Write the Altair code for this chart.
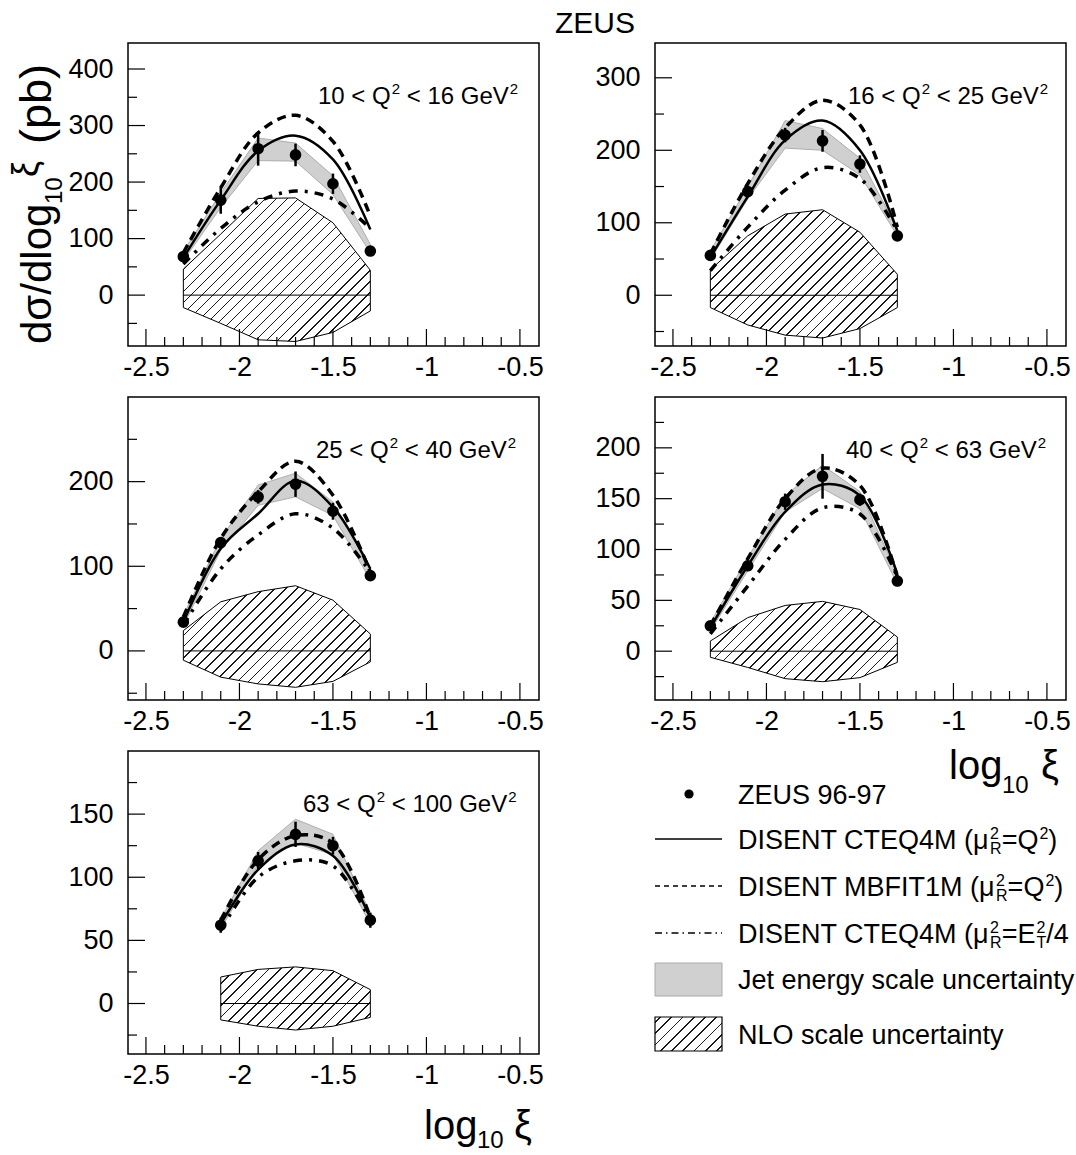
import math
import altair as alt
import pandas as pd

FONT = "Liberation Sans"
W, H = 411, 303
XDOM = [-2.596, -0.398]

# ---------------- data ----------------
x_bins = [-2.3, -2.1, -1.9, -1.7, -1.5, -1.3]
x_bins5 = [-2.1, -1.9, -1.7, -1.5, -1.3]

p1_data = [68, 168, 259, 248, 197, 78]
p1_err = [5, 24, 30, 20, 18, 6]
p1_jes_hi = [77, 181, 278, 269, 211, 90]
p1_jes_lo = [61, 155, 238, 237, 178, 75]
p1_cteq = [66, 168, 255, 282, 240, 116]
p1_mbfit = [75, 190, 287, 318, 272, 140]
p1_et = [55, 118, 165, 184, 170, 118]
p1_nlo_hi = [46, 108, 171, 172, 128, 44]
p1_nlo_lo = [-22, -50, -79, -82, -66, -28]

p2_data = [55, 143, 221, 213, 181, 82]
p2_err = [4, 8, 10, 15, 12, 5]
p2_jes_hi = [61, 150, 241, 230, 189, 92]
p2_jes_lo = [49, 133, 203, 200, 166, 82]
p2_cteq = [52, 136, 214, 241, 200, 89]
p2_mbfit = [57, 154, 231, 269, 235, 94]
p2_et = [34, 94, 145, 176, 161, 89]
p2_nlo_hi = [35, 82, 112, 118, 87, 29]
p2_nlo_lo = [-17, -41, -55, -59, -46, -17]

p3_data = [34, 128, 182, 197, 165, 89]
p3_err = [4, 6, 8, 15, 10, 5]
p3_jes_hi = [42, 133, 196, 210, 176, 98]
p3_jes_lo = [30, 119, 172, 182, 160, 84]
p3_cteq = [34, 121, 162, 201, 170, 97]
p3_mbfit = [40, 133, 188, 224, 184, 93]
p3_et = [30, 97, 137, 162, 145, 93]
p3_nlo_hi = [24, 58, 70, 77, 60, 20]
p3_nlo_lo = [-11, -31, -39, -43, -36, -13]

p4_data = [25, 84, 147, 172, 149, 69]
p4_err = [4, 5, 8, 22, 6, 5]
p4_jes_hi = [28, 92, 153, 183, 157, 76]
p4_jes_lo = [20, 79, 137, 160, 140, 66]
p4_cteq = [23, 84, 137, 164, 153, 76]
p4_mbfit = [25, 91, 150, 180, 163, 73]
p4_et = [17, 64, 110, 141, 135, 73]
p4_nlo_hi = [10, 33, 45, 49, 41, 14]
p4_nlo_lo = [-6, -16, -27, -30, -26, -11]

p5_data = [62, 113, 134, 125, 66]
p5_err = [6, 7, 10, 7, 6]
p5_jes_hi = [67, 121, 146, 134, 72]
p5_jes_lo = [59, 110, 127, 118, 63]
p5_cteq = [63, 106, 126, 117, 68]
p5_mbfit = [66, 114, 133, 127, 68]
p5_et = [58, 100, 113, 109, 66]
p5_nlo_hi = [21, 27, 29, 26, 11]
p5_nlo_lo = [-13, -18, -21, -18, -11]

q2_low = ["10", "16", "25", "40", "63"]
q2_high = ["16", "25", "40", "63", "100"]
y_domains = [[-90, 446], [-70, 348], [-58, 300], [-48, 250], [-40, 200]]
y_major = [[0, 100, 200, 300, 400], [0, 100, 200, 300], [0, 100, 200],
           [0, 50, 100, 150, 200], [0, 50, 100, 150]]
y_minor = [[-50, 50, 150, 250, 350], [-50, 50, 150, 250], [-50, 50, 150, 250],
           [-25, 25, 75, 125, 175, 225], [-25, 25, 75, 125, 175]]
x_major = [-2.5, -2.0, -1.5, -1.0, -0.5]
x_minor = [-2.4, -2.3, -2.2, -2.1, -1.9, -1.8, -1.7, -1.6, -1.4, -1.3, -1.2,
           -1.1, -0.9, -0.8, -0.7, -0.6]

legend_labels = ["ZEUS 96-97", "DISENT CTEQ4M (\u03bc", "DISENT MBFIT1M (\u03bc",
                 "Jet energy scale uncertainty", "NLO scale uncertainty"]

# ---------------- helpers ----------------
AW = {' ': 278, '(': 333, ')': 333, '-': 333, '.': 278, '/': 278, '=': 584, '<': 584,
      'A': 667, 'B': 667, 'C': 722, 'D': 722, 'E': 667, 'F': 611, 'G': 778, 'I': 278,
      'J': 500, 'L': 556, 'M': 833, 'N': 722, 'O': 778, 'Q': 778, 'R': 722, 'S': 667,
      'T': 611, 'U': 722, 'V': 667, 'Z': 611, 'a': 556, 'c': 500, 'e': 556, 'g': 556,
      'i': 222, 'l': 222, 'n': 556, 'o': 556, 'r': 333, 's': 500, 't': 278, 'u': 556,
      'y': 500, '\u03bc': 576, '\u03c3': 600}


def tw(s, size):
    return sum(AW.get(c, 556) for c in s) * size / 1000.0


def hatch(wpx, hpx, spacing=7.8, lw=1.2, ink="#1a1a1a", bg="#ffffff"):
    L = (wpx + hpx) / math.sqrt(2)
    a = (wpx + hpx) / (wpx ** 2 + hpx ** 2)
    n = max(1, int(round(L / spacing)))
    half = lw / L / 2
    stops = [alt.GradientStop(offset=0, color=bg)]
    for k in range(n):
        t = (k + 0.5) / n
        lo, hi = round(max(0, t - half), 5), round(min(1, t + half), 5)
        stops += [alt.GradientStop(offset=lo, color=bg), alt.GradientStop(offset=lo, color=ink),
                  alt.GradientStop(offset=hi, color=ink), alt.GradientStop(offset=hi, color=bg)]
    stops.append(alt.GradientStop(offset=1, color=bg))
    return alt.LinearGradient(gradient="linear", stops=stops, x1=0, y1=0,
                              x2=round(a * wpx, 5), y2=round(a * hpx, 5))


one = pd.DataFrame({"a": [0]})


def txt(s, x, y, size, angle=None, align="left", limit=None):
    kw = dict(text=s, font=FONT, fontSize=size, align=align, baseline="alphabetic", color="black")
    if angle is not None:
        kw["angle"] = angle
    if limit is not None:
        kw["limit"] = limit
        kw["ellipsis"] = "\u200b"
    return alt.Chart(one).mark_text(**kw).encode(x=alt.value(x), y=alt.value(y))


def rich(x0, by, size, ssize, segs, rise, drop, right=None):
    """Horizontal text built of pieces: ('m', text), ('sup', text), ('ss', (sup, sub))."""
    out = []
    xx = x0
    for kind, s in segs:
        if kind == "m":
            stripped = s.lstrip(" ")
            xx += tw(s[:len(s) - len(stripped)], size)
            w = tw(stripped, size)
            if right is not None and xx + w > right:
                out.append(txt(stripped, xx, by, size, limit=right - xx))
            else:
                out.append(txt(stripped, xx, by, size))
            xx += w
        elif kind == "sup":
            out.append(txt(s, xx + 1, by - rise, ssize))
            xx += tw(s, ssize) + 1
        elif kind == "ss":
            sup, sub = s
            out.append(txt(sup, xx + 1, by - rise, ssize))
            out.append(txt(sub, xx + 1, by + drop, ssize))
            xx += max(tw(sup, ssize), tw(sub, ssize)) + 1
    return out


def panel(x, data, err, jhi, jlo, cteq, mbfit, et, nhi, nlo, qlo, qhi, label_dx,
          ydom, ymaj, ymin, extra=()):
    xs = alt.Scale(domain=XDOM, nice=False, zero=False)
    ys = alt.Scale(domain=ydom, nice=False, zero=False)
    common = dict(ticks=False, tickSize=0, domain=False, grid=False, labelFont=FONT,
                  labelFontSize=27, labelColor="black", labelFlush=False,
                  labelOverlap=False, labelExpr="'' + datum.value")
    xax = alt.Axis(values=x_major, labelPadding=8, **common)
    yax = alt.Axis(values=ymaj, labelPadding=15, **common)

    def X(f):
        return alt.X(f, type="quantitative", scale=xs, axis=xax, title=None)

    def Y(f):
        return alt.Y(f, type="quantitative", scale=ys, axis=yax, title=None)

    df = pd.DataFrame({
        "x": x, "data": data,
        "lo": [d - e for d, e in zip(data, err)],
        "hi": [d + e for d, e in zip(data, err)],
        "jhi": jhi, "jlo": jlo, "cteq": cteq, "mbfit": mbfit, "et": et,
        "nhi": nhi, "nlo": nlo,
    })
    wpx = (max(x) - min(x)) * W / (XDOM[1] - XDOM[0])
    hpx = (max(nhi) - min(nlo)) * H / (ydom[1] - ydom[0])
    base = alt.Chart(df)
    nlo_area = base.mark_area(fill=hatch(wpx, hpx), stroke="black", strokeWidth=1).encode(
        x=X("x"), y=Y("nhi"), y2="nlo")
    zero = alt.Chart(pd.DataFrame({"x0": [min(x)], "x1": [max(x)], "z": [0]})).mark_rule(
        color="black", strokeWidth=1).encode(x=X("x0"), x2="x1", y=Y("z"))
    jes = base.mark_area(fill="#d0d0d0", stroke="#a0a0a0", strokeWidth=0.8).encode(
        x=X("x"), y=Y("jhi"), y2="jlo")
    l_et = base.mark_line(color="black", strokeWidth=3.5, strokeDash=[9, 7, 3, 7],
                          interpolate="catmull-rom").encode(x=X("x"), y=Y("et"))
    l_mb = base.mark_line(color="black", strokeWidth=3.5, strokeDash=[9, 6],
                          interpolate="catmull-rom").encode(x=X("x"), y=Y("mbfit"))
    l_ct = base.mark_line(color="black", strokeWidth=2.5,
                          interpolate="catmull-rom").encode(x=X("x"), y=Y("cteq"))
    ebar = base.mark_rule(color="black", strokeWidth=2.5).encode(x=X("x"), y=Y("lo"), y2="hi")
    pts = base.mark_circle(color="black", opacity=1, size=135).encode(x=X("x"), y=Y("data"))

    ymaj_df = pd.DataFrame({"v": ymaj})
    ymin_df = pd.DataFrame({"v": ymin})
    xmaj_df = pd.DataFrame({"v": x_major})
    xmin_df = pd.DataFrame({"v": x_minor})
    yt1 = alt.Chart(ymaj_df).mark_rule(color="black", strokeWidth=1.2).encode(
        y=Y("v"), x=alt.value(0), x2=alt.value(17))
    yt2 = alt.Chart(ymin_df).mark_rule(color="black", strokeWidth=1.2).encode(
        y=Y("v"), x=alt.value(0), x2=alt.value(9))
    xt1 = alt.Chart(xmaj_df).mark_rule(color="black", strokeWidth=1.2).encode(
        x=X("v"), y=alt.value(H), y2=alt.value(H - 17))
    xt2 = alt.Chart(xmin_df).mark_rule(color="black", strokeWidth=1.2).encode(
        x=X("v"), y=alt.value(H), y2=alt.value(H - 9))
    lab = rich(label_dx, 61, 24, 15,
               [("m", qlo + " < Q"), ("sup", "2"), ("m", " < " + qhi + " GeV"), ("sup", "2")],
               rise=10, drop=5)
    return alt.layer(nlo_area, zero, jes, l_et, l_mb, l_ct, ebar, pts,
                     yt1, yt2, xt1, xt2, *lab, *extra).properties(width=W, height=H)


# ---------- extra text for panels ----------
anchor = alt.Chart(one).mark_rule(color="white", strokeWidth=1).encode(
    x=alt.value(-126.5), y=alt.value(-41.5), y2=alt.value(-36))
ytitle = [
    txt("d\u03c3/dlog", -77, 301, 42, angle=270),
    txt("10", -66, 161, 24, angle=270),
    txt("\u03be", -90, 134, 36, angle=270),
    txt("(pb)", -77, 101, 45, angle=270),
]
zeus = txt("ZEUS", 467, -10, 30, align="center")

xt_right = [txt("log", 294, 382, 40), txt("10", 347, 396, 24), txt("\u03be", 386, 382, 40)]
xt_bottom = [txt("log", 296, 388, 40), txt("10", 349, 397, 24), txt("\u03be", 386, 388, 40)]

p1 = panel(x_bins, p1_data, p1_err, p1_jes_hi, p1_jes_lo, p1_cteq, p1_mbfit, p1_et,
           p1_nlo_hi, p1_nlo_lo, q2_low[0], q2_high[0], 190, y_domains[0], y_major[0], y_minor[0],
           extra=[anchor, zeus] + ytitle)
p2 = panel(x_bins, p2_data, p2_err, p2_jes_hi, p2_jes_lo, p2_cteq, p2_mbfit, p2_et,
           p2_nlo_hi, p2_nlo_lo, q2_low[1], q2_high[1], 193, y_domains[1], y_major[1], y_minor[1])
p3 = panel(x_bins, p3_data, p3_err, p3_jes_hi, p3_jes_lo, p3_cteq, p3_mbfit, p3_et,
           p3_nlo_hi, p3_nlo_lo, q2_low[2], q2_high[2], 188, y_domains[2], y_major[2], y_minor[2])
p4 = panel(x_bins, p4_data, p4_err, p4_jes_hi, p4_jes_lo, p4_cteq, p4_mbfit, p4_et,
           p4_nlo_hi, p4_nlo_lo, q2_low[3], q2_high[3], 191, y_domains[3], y_major[3], y_minor[3],
           extra=xt_right)
p5 = panel(x_bins5, p5_data, p5_err, p5_jes_hi, p5_jes_lo, p5_cteq, p5_mbfit, p5_et,
           p5_nlo_hi, p5_nlo_lo, q2_low[4], q2_high[4], 175, y_domains[4], y_major[4], y_minor[4],
           extra=xt_bottom)

# ---------- legend cell ----------
LS, SS = 27, 16
TX = 83
RIGHT = 421
rows_c = [43, 88, 135, 182, 228, 283]
base_y = [c + 10 for c in rows_c]
leg = []
leg.append(alt.Chart(one).mark_circle(color="black", size=85, opacity=1).encode(
    x=alt.value(34), y=alt.value(rows_c[0])))
leg.append(alt.Chart(one).mark_rule(color="black", strokeWidth=1.6).encode(
    x=alt.value(0), x2=alt.value(67), y=alt.value(rows_c[1])))
leg.append(alt.Chart(one).mark_rule(color="black", strokeWidth=1.6, strokeDash=[5, 4]).encode(
    x=alt.value(0), x2=alt.value(67), y=alt.value(rows_c[2])))
leg.append(alt.Chart(one).mark_rule(color="black", strokeWidth=1.6, strokeDash=[7, 4, 1.5, 4]).encode(
    x=alt.value(0), x2=alt.value(67), y=alt.value(rows_c[3])))
leg.append(alt.Chart(one).mark_rect(fill="#d0d0d0", stroke="#aaaaaa", strokeWidth=1).encode(
    x=alt.value(0), x2=alt.value(67), y=alt.value(212), y2=alt.value(245)))
leg.append(alt.Chart(one).mark_rect(fill=hatch(67, 34), stroke="black", strokeWidth=1.2).encode(
    x=alt.value(0), x2=alt.value(67), y=alt.value(266), y2=alt.value(300)))

leg.append(txt(legend_labels[0], TX, base_y[0], LS))
leg += rich(TX, base_y[1], LS, SS, [("m", legend_labels[1]), ("ss", ("2", "R")), ("m", "=Q"),
                                    ("sup", "2"), ("m", ")")], rise=10, drop=5, right=RIGHT)
leg += rich(TX, base_y[2], LS, SS, [("m", legend_labels[2]), ("ss", ("2", "R")), ("m", "=Q"),
                                    ("sup", "2"), ("m", ")")], rise=10, drop=5, right=RIGHT)
leg += rich(TX, base_y[3], LS, SS, [("m", legend_labels[1]), ("ss", ("2", "R")), ("m", "=E"),
                                    ("ss", ("2", "T")), ("m", "/4)")], rise=10, drop=5, right=RIGHT)
leg += rich(TX, base_y[4], LS, SS, [("m", legend_labels[3])], rise=10, drop=5, right=RIGHT)
leg.append(txt(legend_labels[4], TX, base_y[5], LS))

legend = alt.layer(*leg).properties(width=W, height=H, view=alt.ViewBackground(strokeOpacity=0))

chart = alt.concat(p1, p2, p3, p4, p5, legend, columns=2, bounds="flush",
                   spacing={"row": 51, "column": 116}).configure_view(
    stroke="black", strokeWidth=1.5).properties(padding=0, background="white")

chart.save("out.html", embed_options={"renderer": "svg", "actions": False})
